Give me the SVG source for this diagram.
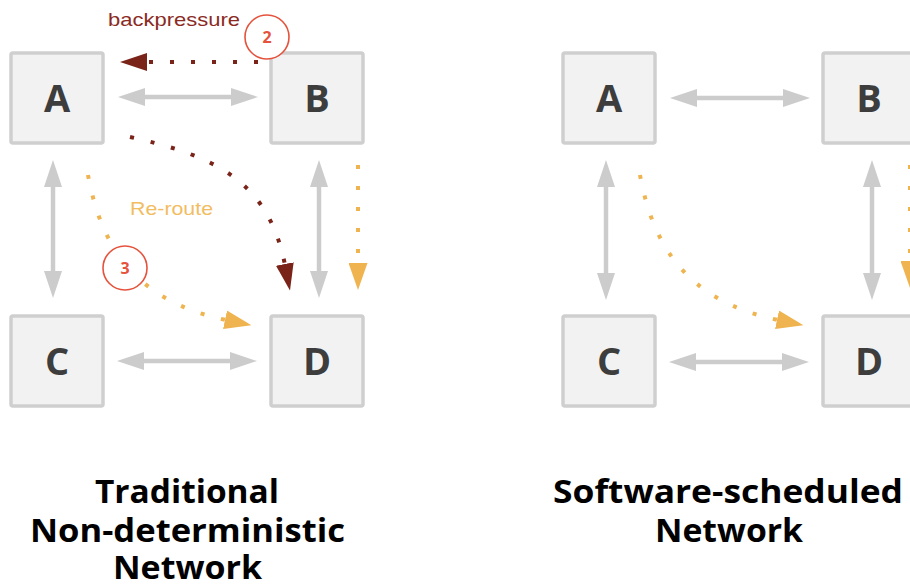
<svg xmlns="http://www.w3.org/2000/svg" width="910" height="588" viewBox="0 0 910 588">
<style>
.box{fill:#f2f2f2;stroke:#cfcfcf;stroke-width:3.5}
.lbl{font-family:"Open Sans","Liberation Sans",sans-serif;font-weight:700;font-size:38px;fill:#3d3d3d;text-anchor:middle}
.gray{stroke:#cccccc;stroke-width:4.5;fill:none;marker-start:url(#gh);marker-end:url(#gh)}
.red{stroke:#7a2318;stroke-width:4;fill:none;stroke-dasharray:4 17;marker-end:url(#rh)}
.yel{stroke:#efb44f;stroke-width:4;fill:none;stroke-dasharray:4 17;marker-end:url(#yh)}
.num{fill:#fff;stroke:#e5533d;stroke-width:1.6}
.numt{font-family:"Open Sans","Liberation Sans",sans-serif;font-weight:700;font-size:16px;fill:#e5533d;text-anchor:middle}
.title{font-family:"Open Sans","Liberation Sans",sans-serif;font-weight:700;font-size:32px;fill:#000;text-anchor:middle}
.note{font-family:"Liberation Sans",Arial,sans-serif;font-size:19px}
</style>
<defs>
<marker id="gh" viewBox="0 0 27 18" refX="7" refY="9" markerWidth="27" markerHeight="18" markerUnits="userSpaceOnUse" orient="auto-start-reverse"><path d="M0,0 L27,9 L0,18 z" fill="#cccccc"/></marker>
<marker id="rh" viewBox="0 0 27 18" refX="1" refY="9" markerWidth="27" markerHeight="18" markerUnits="userSpaceOnUse" orient="auto"><path d="M0,0 L27,9 L0,18 z" fill="#7a2318"/></marker>
<marker id="yh" viewBox="0 0 27 19" refX="1" refY="9.5" markerWidth="27" markerHeight="19" markerUnits="userSpaceOnUse" orient="auto"><path d="M0,0 L27,9.5 L0,19 z" fill="#efb44f"/></marker>
</defs>

<!-- Left panel nodes -->
<g id="L-A"><rect class="box" x="11" y="53" width="92" height="90" rx="2"/><text class="lbl" x="57" y="112">A</text></g>
<g id="L-B"><rect class="box" x="271" y="53" width="92" height="90" rx="2"/><text class="lbl" x="317" y="112">B</text></g>
<g id="L-C"><rect class="box" x="11" y="316" width="92" height="90" rx="2"/><text class="lbl" x="57" y="375">C</text></g>
<g id="L-D"><rect class="box" x="271" y="316" width="92" height="90" rx="2"/><text class="lbl" x="317" y="375">D</text></g>

<!-- Right panel nodes -->
<g id="R-A"><rect class="box" x="563" y="53" width="92" height="90" rx="2"/><text class="lbl" x="609" y="112">A</text></g>
<g id="R-B"><rect class="box" x="823" y="53" width="92" height="90" rx="2"/><text class="lbl" x="869" y="112">B</text></g>
<g id="R-C"><rect class="box" x="563" y="316" width="92" height="90" rx="2"/><text class="lbl" x="609" y="375">C</text></g>
<g id="R-D"><rect class="box" x="823" y="316" width="92" height="90" rx="2"/><text class="lbl" x="869" y="375">D</text></g>

<g id="connectors">
  <!-- left gray links -->
  <path class="gray" d="M138,97 L238,97"/>
  <path class="gray" d="M137,361 L237,361"/>
  <path class="gray" d="M53,180 L53,278"/>
  <path class="gray" d="M319,180 L319,278"/>
  <!-- right gray links -->
  <path class="gray" d="M690,98 L790,98"/>
  <path class="gray" d="M689,362 L789,362"/>
  <path class="gray" d="M606,180 L606,280"/>
  <path class="gray" d="M872,180 L872,280"/>
  <!-- left red -->
  <path class="red" d="M258,62 L146,62"/>
  <path class="red" d="M130,137 C210,155 268,178 285,265"/>
  <!-- left yellow -->
  <path class="yel" d="M358,165 L358,264"/>
  <path class="yel" d="M88,175 C100,240 130,300 226,320"/>
  <!-- right yellow -->
  <path class="yel" d="M910,165 L910,262"/>
  <path class="yel" d="M640,175 C652,240 682,300 778,320"/>
</g>

<g id="annotations">
  <text class="note" x="108" y="26" fill="#8b2b1f" textLength="132" lengthAdjust="spacingAndGlyphs">backpressure</text>
  <text class="note" x="130" y="215" fill="#f2bd62" textLength="83" lengthAdjust="spacingAndGlyphs">Re-route</text>
  <g id="step2"><circle class="num" cx="267" cy="37" r="22"/><text class="numt" x="267" y="43">2</text></g>
  <g id="step3"><circle class="num" cx="125" cy="268" r="22"/><text class="numt" x="125" y="274">3</text></g>
</g>

<g id="titles">
  <text class="title" x="187" y="503" textLength="184" lengthAdjust="spacingAndGlyphs">Traditional</text>
  <text class="title" x="187.5" y="542" textLength="315" lengthAdjust="spacingAndGlyphs">Non-deterministic</text>
  <text class="title" x="187.5" y="579" textLength="149" lengthAdjust="spacingAndGlyphs">Network</text>
  <text class="title" x="728" y="503" textLength="350" lengthAdjust="spacingAndGlyphs">Software-scheduled</text>
  <text class="title" x="729" y="542" textLength="148" lengthAdjust="spacingAndGlyphs">Network</text>
</g>
</svg>
